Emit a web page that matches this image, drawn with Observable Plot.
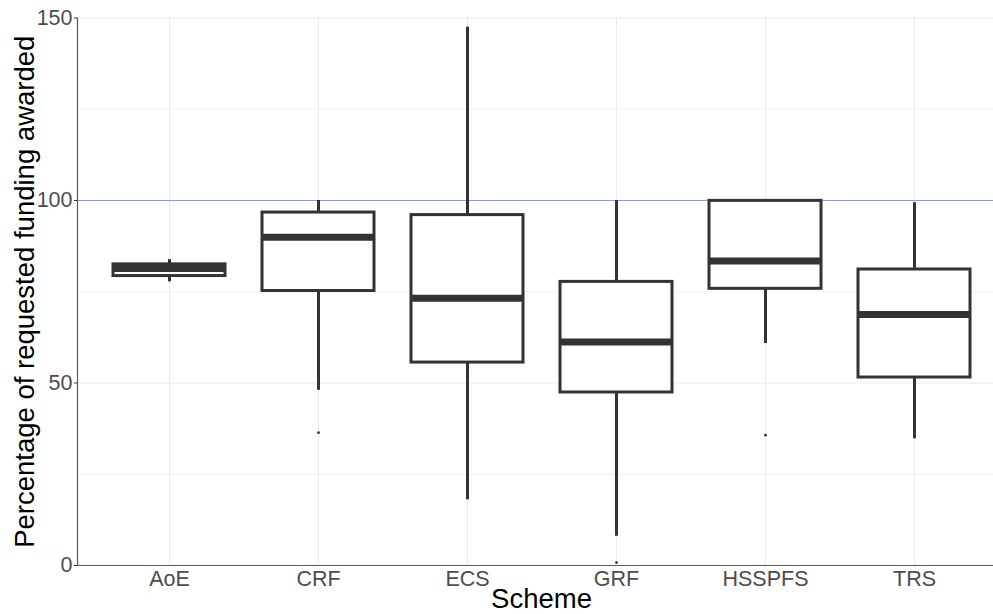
<!DOCTYPE html>
<html>
<head>
<meta charset="utf-8">
<script src="https://cdn.jsdelivr.net/npm/d3@7"></script>
<script src="https://cdn.jsdelivr.net/npm/@observablehq/plot@0.6"></script>
<style>
  html, body { margin: 0; padding: 0; background: #fff; overflow: hidden; }
  #chart { width: 1005px; }
  #chart svg { overflow: visible; display: block; max-width: none !important; width: 1005px; height: 614px !important; }
</style>
</head>
<body>
<div id="chart"></div>
<script>
// Data
const schemes = ["AoE", "CRF", "ECS", "GRF", "HSSPFS", "TRS"];
const whiskerLow = [77.7, 48.0, 18.0, 8.0, 60.8, 34.7];
const q1 = [79.3, 75.2, 55.6, 47.4, 75.8, 51.5];
const medians = [81.4, 89.9, 73.2, 61.2, 83.4, 68.8];
const q3 = [82.5, 96.7, 96.0, 77.7, 99.9, 81.1];
const whiskerHigh = [83.8, 100, 147.5, 100, 100, 99.4];

const outlierSchemes = ["CRF", "GRF", "HSSPFS"];
const outlierValues = [36.4, 0.8, 35.7];

const yTicks = [0, 50, 100, 150];
const yMinorTicks = [25, 75, 125];
const referenceLine = [100];

const xTitle = "Scheme";
const yTitle = "Percentage of requested funding awarded";

const boxes = schemes.map((s, i) => ({
  scheme: s, lo: whiskerLow[i], q1: q1[i], median: medians[i], q3: q3[i], hi: whiskerHigh[i]
}));
const outliers = outlierSchemes.map((s, i) => ({scheme: s, value: outlierValues[i]}));

const ink = "#333333";

const chart = Plot.plot({
  width: 1005,
  height: 614,
  marginLeft: 77,
  marginRight: 0,
  marginTop: 17.5,
  marginBottom: 49,
  style: {fontFamily: "'Liberation Sans', Arial, sans-serif", fontSize: "21.5px", color: "#4d4d4d", background: "white"},
  x: {type: "band", domain: schemes, paddingInner: 0.25, paddingOuter: 0.225, label: null},
  y: {domain: [0, 150], label: null},
  marks: [
    Plot.gridY(yMinorTicks, {stroke: "#f3f3f3", strokeOpacity: 1, strokeWidth: 1}),
    Plot.gridY(yTicks, {stroke: "#ebebeb", strokeOpacity: 1, strokeWidth: 1}),
    Plot.gridX(schemes, {stroke: "#ebebeb", strokeOpacity: 1, strokeWidth: 1}),
    Plot.ruleY(referenceLine, {stroke: "#8d9edb", strokeWidth: 1.2}),
    Plot.ruleX(boxes, {x: "scheme", y1: "lo", y2: "q1", stroke: ink, strokeWidth: 3}),
    Plot.ruleX(boxes, {x: "scheme", y1: "q3", y2: "hi", stroke: ink, strokeWidth: 3}),
    Plot.barY(boxes, {x: "scheme", y1: "q1", y2: "q3", fill: "white", stroke: ink, strokeWidth: 3, inset: 0}),
    Plot.tickY(boxes, {x: "scheme", y: "median", stroke: ink, strokeWidth: 7}),
    Plot.dot(outliers, {x: "scheme", y: "value", r: 1.4, fill: ink, stroke: null}),
    Plot.axisY(yTicks, {tickSize: 3, tickPadding: 2, stroke: ink, label: null, fontSize: 21.5}),
    Plot.axisX(schemes, {tickSize: 0, tickPadding: 5.5, label: null, fontSize: 21.5}),
    Plot.ruleY([0], {stroke: "#595959", strokeWidth: 1.2}),
    Plot.frame({anchor: "left", stroke: "#595959", strokeWidth: 1.2}),
    Plot.text([xTitle], {frameAnchor: "bottom", dy: 34, lineAnchor: "middle", textAnchor: "middle", fontSize: 27.5, fill: "black", text: d => d}),
    Plot.text([yTitle], {frameAnchor: "left", dx: -52, rotate: -90, lineAnchor: "middle", textAnchor: "middle", fontSize: 27.5, fill: "black", text: d => d})
  ]
});
document.getElementById("chart").appendChild(chart);
</script>
</body>
</html>
